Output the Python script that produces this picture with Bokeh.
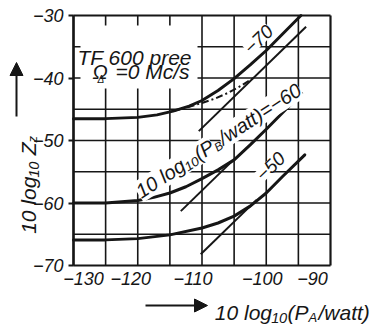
import math
from bokeh.plotting import figure
from bokeh.models import Range1d, FixedTicker, Label, Arrow, NormalHead
from bokeh.embed import file_html
from bokeh.resources import INLINE

# ---- data ----
pa_70 = [-130, -125, -120, -117, -114.5, -112, -110, -107.5, -105, -102.5, -100, -97.5, -94.6]
z_70 = [-46.5, -46.5, -46.3, -45.9, -45.3, -44.5, -43.6, -42.0, -40.1, -37.9, -35.6, -33.0, -30.0]
pa_70_dd = [-114.5, -112, -110, -108, -106, -104, -102]
z_70_dd = [-45.3, -44.6, -44.0, -43.3, -42.4, -41.3, -40.0]
pa_70_lin = [-110.5, -93.8]
z_70_lin = [-48.5, -31.8]

pa_60 = [-130, -125, -120, -117.5, -115, -112.5, -110, -107.5, -105, -102.5, -100, -97.5, -94.5]
z_60 = [-60, -60, -59.6, -59.1, -58.4, -57.4, -56.1, -54.7, -53.1, -50.7, -48.2, -45.6, -42.5]
pa_60_lin = [-113.3, -105.3]
z_60_lin = [-61.3, -53.3]

pa_50 = [-130, -125, -120, -115, -110, -107.5, -105, -102.5, -100, -97.5, -94]
z_50 = [-65.9, -65.9, -65.7, -65.1, -64.0, -63.2, -62.1, -60.5, -58.4, -55.8, -52.3]
pa_50_lin = [-110.2, -101.5]
z_50_lin = [-68.2, -59.5]

x_ticks = [-130, -120, -110, -100, -90]
x_tick_labels = ["\u2212130", "\u2212120", "\u2212110", "\u2212100", "\u221290"]
y_ticks = [-70, -60, -50, -40, -30]
grid_x = [-125, -120, -115, -110, -105, -100, -95]
grid_y = [-65, -60, -55, -50, -45, -40, -35]

XMIN, XMAX, YMIN, YMAX = -130, -90, -70, -30

FONT = "Liberation Sans"
INK = "#161616"

# ---- layout (pixels) ----
W, H = 371, 324
L, R, T, B = 73, 41, 15, 59
fw, fh = W - L - R, H - T - B
sx = fw / (XMAX - XMIN)
sy = fh / (YMAX - YMIN)

def d(rx, ry):
    """pixel position on the canvas -> data coordinates (annotation placement)"""
    x = XMIN + (rx - L) / sx
    y = YMAX - (ry - T) / sy
    return x, y

p = figure(width=W, height=H, output_backend="svg", toolbar_location=None,
           x_range=Range1d(XMIN - L / sx, XMAX + R / sx),
           y_range=Range1d(YMIN - B / sy, YMAX + T / sy),
           min_border=0, min_border_left=0, min_border_right=0,
           min_border_top=0, min_border_bottom=0)
p.background_fill_color = "white"
p.border_fill_color = "white"
p.outline_line_color = None
p.grid.visible = False
p.xaxis.visible = False

# grid (every 5 units) and plot box
p.segment(x0=grid_x, y0=YMIN, x1=grid_x, y1=YMAX, line_color=INK, line_width=1.6)
p.segment(x0=XMIN, y0=grid_y, x1=XMAX, y1=grid_y, line_color=INK, line_width=1.6)
p.segment(x0=[XMIN, XMAX], y0=YMIN, x1=[XMIN, XMAX], y1=YMAX, line_color=INK, line_width=2.2)
p.segment(x0=XMIN, y0=[YMIN, YMAX], x1=XMAX, y1=[YMIN, YMAX], line_color=INK, line_width=2.2)

# white field behind the device annotation (grid interrupted there)
bx0, by0 = d(80, 25)
bx1, by1 = d(197, 88)
p.quad(left=bx0, right=bx1, top=by0, bottom=by1, fill_color="white", line_color=None)

# y axis
ya = p.yaxis[0]
ya.fixed_location = XMIN
ya.bounds = (YMIN, YMAX)
ya.ticker = FixedTicker(ticks=y_ticks)
ya.major_tick_out = 5
ya.major_tick_in = 0
ya.major_tick_line_width = 2
ya.major_tick_line_color = INK
ya.minor_tick_line_color = None
ya.axis_line_color = INK
ya.axis_line_width = 2.2
ya.major_label_standoff = 5
ya.major_label_text_font = FONT
ya.major_label_text_font_style = "italic"
ya.major_label_text_font_size = "18px"
ya.major_label_text_color = INK
ya.major_label_overrides = {t: "\u2212%d" % abs(t) for t in y_ticks}

# curves
for xs, ys in ((pa_70, z_70), (pa_60, z_60), (pa_50, z_50)):
    p.line(xs, ys, line_color=INK, line_width=3, line_cap="round")
for xs, ys in ((pa_70_lin, z_70_lin), (pa_60_lin, z_60_lin), (pa_50_lin, z_50_lin)):
    p.line(xs, ys, line_color=INK, line_width=2)
p.line(pa_70_dd, z_70_dd, line_color=INK, line_width=2, line_dash="7 3 2 3")

def lab(text, rx, ry, size, align="left", baseline="alphabetic", angle=0.0,
        xo=0.0, yo=0.0, bg=None):
    x, y = d(rx, ry)
    lb = Label(x=x, y=y, text=text, text_font=FONT, text_font_style="italic",
               text_font_size="%dpx" % size, text_color=INK, text_align=align,
               text_baseline=baseline, angle=angle, x_offset=xo, y_offset=yo)
    if bg:
        lb.background_fill_color = bg
    p.add_layout(lb)
    return lb

# x tick labels
x_label_shift = [10, -7, -9, -4, -18]
for t, s, sh in zip(x_ticks, x_tick_labels, x_label_shift):
    p.add_layout(Label(x=t, y=YMIN, text=s, text_font=FONT, text_font_style="italic",
                       text_font_size="18px", text_color=INK, text_align="center",
                       text_baseline="top", x_offset=sh, y_offset=-6))

# device annotation
lab("TF 600 pree", 77, 57, 21)
lab("\u03a9", 92, 71, 20)
lab("\u0394", 97, 79, 10)
lab("=0 Mc/s", 189, 71, 21, align="right")

# family labels
lab("\u221270", 258, 39, 19, align="center", baseline="middle", angle=math.radians(44), bg="white")
lab("\u221250", 270, 166, 19, align="center", baseline="middle", angle=math.radians(44), bg="white")

th = math.radians(33)
ax, ay = 212, 144
lab("10 log\u2081\u2080(P", ax, ay, 20, align="right", angle=th, bg="white")
lab("B", ax, ay, 12, angle=th, xo=5 * math.sin(th), yo=-5 * math.cos(th))
lab("/watt)=\u221260", ax, ay, 20, angle=th, xo=9 * math.cos(th), yo=9 * math.sin(th), bg="white")

# x axis title with arrow
lab("10 log\u2081\u2080(P", 308, 312, 21, align="right")
lab("A", 308, 312, 13, yo=-5)
lab("/watt)", 308, 312, 21, xo=10)
xa0, ya0 = d(145, 305)
xa1, _ = d(207, 305)
p.add_layout(Arrow(x_start=xa0, y_start=ya0, x_end=xa1, y_end=ya0, line_color=INK, line_width=2,
                   end=NormalHead(size=13, fill_color=INK, line_color=INK)))

# y axis title with arrow
lab("10 log\u2081\u2080 Z", 28, 142, 21, align="right", angle=math.pi / 2)
lab("z", 28, 142, 13, angle=math.pi / 2, xo=4)
xb, yb0 = d(16, 116)
_, yb1 = d(16, 62)
p.add_layout(Arrow(x_start=xb, y_start=yb0, x_end=xb, y_end=yb1, line_color=INK, line_width=2,
                   end=NormalHead(size=13, fill_color=INK, line_color=INK)))

open("out.html", "w").write(file_html(p, INLINE))
